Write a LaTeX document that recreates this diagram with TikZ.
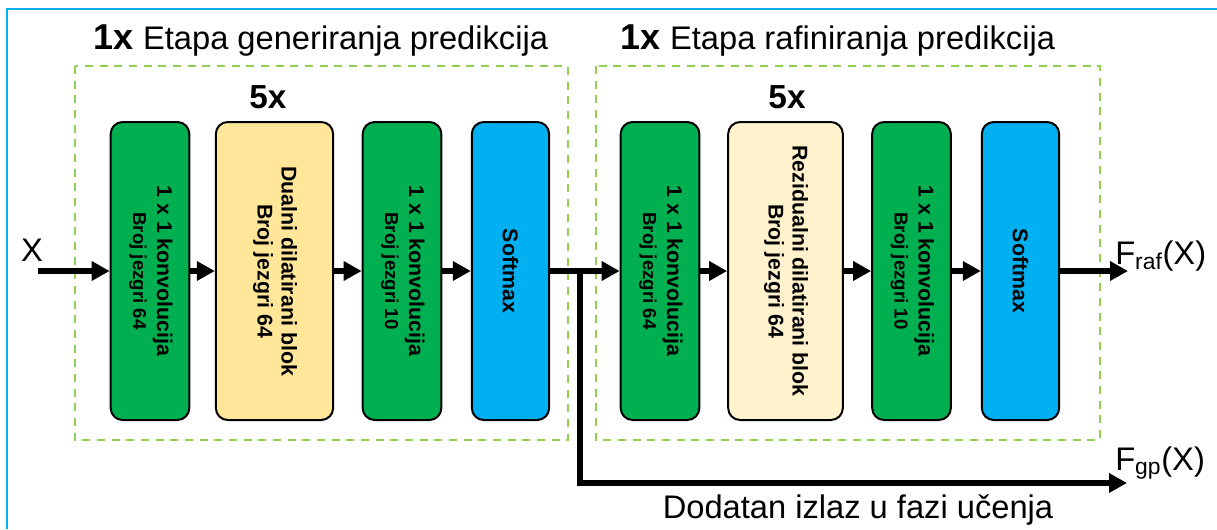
\documentclass[tikz,border=0pt]{standalone}
\usepackage{fontspec}
\setmainfont{Liberation Sans}
\usepackage{xcolor}
\definecolor{zelena}{HTML}{00B050}
\definecolor{zuta}{HTML}{FFE699}
\definecolor{krem}{HTML}{FFF2CC}
\definecolor{plava}{HTML}{00B0F0}
\definecolor{svetlozel}{HTML}{92D050}
\usepackage{tikz}
\usetikzlibrary{arrows.meta}

\newcommand{\uspravno}[2]{\rotatebox{-90}{\begin{tabular}{@{}c@{}}#1\\#2\end{tabular}}}
\newcommand{\mali}{\fontsize{14}{18}\selectfont}
\newcommand{\puta}{{\bfseries\fontsize{27}{30}\selectfont 1x}}

\begin{document}
\begin{tikzpicture}[x=0.75pt, y=-0.75pt,
      blok/.style={draw=black, line width=1.5pt, rounded corners=9pt, inner sep=0pt,
                   minimum height=223.5pt, font=\bfseries\fontsize{16}{18}\selectfont},
      konv/.style={blok, fill=zelena, minimum width=59pt},
      dil/.style={blok, fill=zuta, minimum width=88pt},
      rez/.style={blok, fill=krem, minimum width=86pt},
      soft/.style={blok, fill=plava, minimum width=58pt},
      faza/.style={draw=svetlozel, line width=1.1pt, dash pattern=on 6pt off 5pt},
      veza/.style={-{Triangle[length=13.5pt, width=14pt]}, line width=4pt},
      tekst/.style={font=\fontsize{24.5}{28}\selectfont, inner sep=0pt}]
    \fill[white] (0,0) rectangle (1217,529);
    \useasboundingbox (0,0) rectangle (1217,529);
    \draw[plava, line width=1.5pt] (7,529) -- (7,9) -- (1217,9);

    \node[tekst, anchor=base] (nasl1) at (321,49) {\puta{} Etapa generiranja predikcija};
    \node[tekst, anchor=base] (nasl2) at (838,49) {\puta{} Etapa rafiniranja predikcija};
    \draw[faza] (75,66) rectangle (568,440);
    \draw[faza] (596,66) rectangle (1100,440);
    \node[tekst, anchor=base, font=\bfseries\fontsize{25}{28}\selectfont] (puta1) at (268,108) {5x};
    \node[tekst, anchor=base, font=\bfseries\fontsize{25}{28}\selectfont] (puta2) at (787,108) {5x};

    \node[konv] (konv1) at (150,271)    {\uspravno{1 x 1 konvolucija}{\mali Broj jezgri 64}};
    \node[dil]  (dil)   at (274.5,271)  {\uspravno{Dualni dilatirani blok}{Broj jezgri 64}};
    \node[konv] (konv2) at (402,271)    {\uspravno{1 x 1 konvolucija}{\mali Broj jezgri 10}};
    \node[soft] (soft1) at (510.5,271)  {\rotatebox{-90}{Softmax}};
    \node[konv] (konv3) at (660,271)    {\uspravno{1 x 1 konvolucija}{\mali Broj jezgri 64}};
    \node[rez]  (rez)   at (785.5,271)  {\uspravno{Rezidualni dilatirani blok}{Broj jezgri 64}};
    \node[konv] (konv4) at (911.5,271)  {\uspravno{1 x 1 konvolucija}{\mali Broj jezgri 10}};
    \node[soft] (soft2) at (1020.5,271) {\rotatebox{-90}{Softmax}};

    \node[tekst] (ulazX) at (32,250) {X};
    \node[tekst, anchor=base west] (fraf) at (1115,264) {F\textsubscript{raf}(X)};
    \node[tekst, anchor=base west] (fgp)  at (1115,470) {F\textsubscript{gp}(X)};
    \node[tekst, anchor=base] (dodatan) at (858,518) {Dodatan izlaz u fazi učenja};

    \coordinate (ulaz)  at (38,271);
    \coordinate (izlaz) at (1128,271);
    \coordinate (grana) at (580,271);
    \coordinate (gpkraj) at (1127,483);

    \draw[veza] (ulaz)  -- (konv1);
    \draw[veza] (konv1) -- (dil);
    \draw[veza] (dil)   -- (konv2);
    \draw[veza] (konv2) -- (soft1);
    \draw[veza] (soft1) -- (konv3);
    \draw[veza] (konv3) -- (rez);
    \draw[veza] (rez)   -- (konv4);
    \draw[veza] (konv4) -- (soft2);
    \draw[veza] (soft2) -- (izlaz);
    \draw[veza] (grana) |- (gpkraj);
  \end{tikzpicture}
\end{document}
